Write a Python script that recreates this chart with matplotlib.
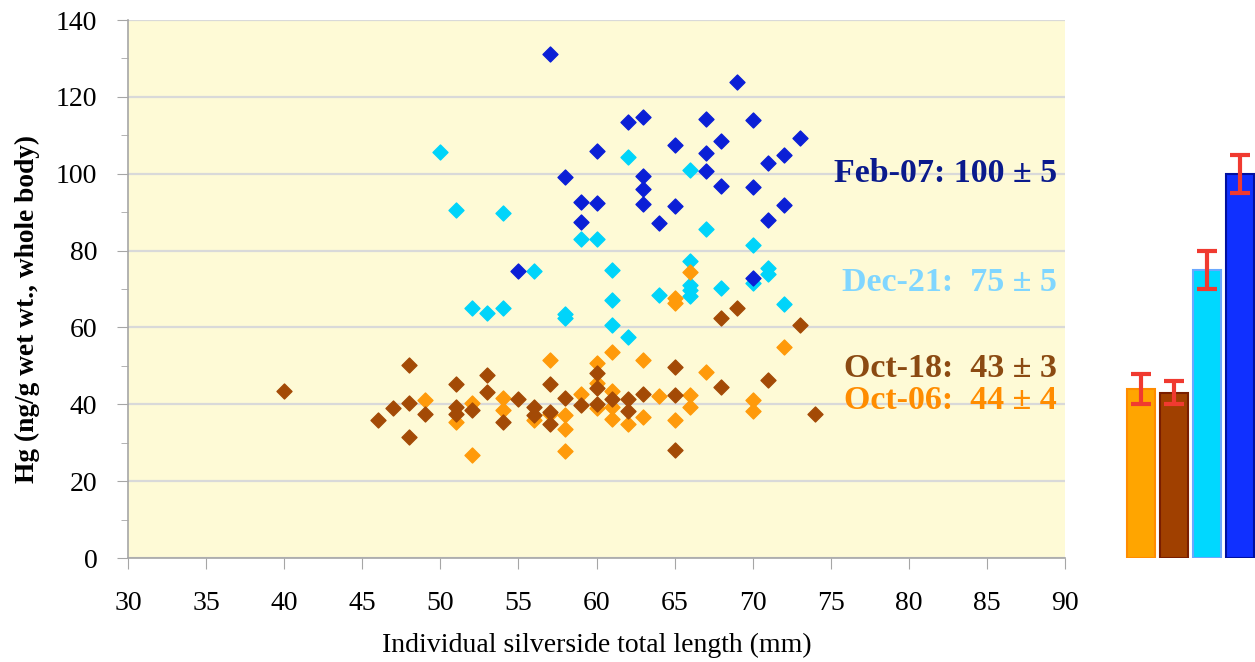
import matplotlib.pyplot as plt
import numpy as np
from matplotlib.ticker import MultipleLocator

plt.rcParams.update({'font.family': 'Liberation Serif'})

# Feb-07 (dark blue)
feb_len = [55, 57, 58, 59, 59, 60, 60, 62, 63, 63, 63, 63, 64, 65, 65, 67, 67, 67,
           68, 68, 69, 70, 70, 70, 71, 71, 72, 72, 73]
feb_hg = [74.8, 131.2, 99.1, 92.6, 87.4, 106, 92.4, 113.5, 114.7, 99.4, 96, 92.2, 87.1,
          107.5, 91.5, 114.2, 105.4, 100.8, 108.5, 96.9, 124, 113.9, 96.5, 72.8, 102.8,
          88, 104.9, 92, 109.4]

# Dec-21 (cyan)
dec_len = [50, 51, 52, 53, 54, 54, 56, 58, 58, 59, 60, 61, 61, 61, 62, 62, 64, 66, 66,
           66, 66, 66, 67, 68, 70, 70, 71, 71, 72]
dec_hg = [105.6, 90.6, 65, 63.7, 89.7, 65.2, 74.8, 63.5, 62.4, 83, 83, 75, 67.1, 60.6,
          104.3, 57.4, 68.4, 101, 77.4, 71, 69.7, 68.2, 85.6, 70.3, 81.4, 71.5, 75.4,
          73.9, 66.1]

# Oct-18 (brown)
o18_len = [40, 46, 47, 48, 48, 48, 49, 51, 51, 51, 52, 53, 53, 54, 55, 56, 56, 57, 57,
           57, 58, 59, 60, 60, 60, 61, 62, 62, 63, 65, 65, 65, 68, 68, 69, 71, 73, 74]
o18_hg = [43.5, 35.9, 39, 50.2, 40.3, 31.6, 37.6, 45.3, 39.4, 37.5, 38.5, 47.6, 43.3,
          35.5, 41.3, 39.4, 37.2, 45.3, 38.1, 35, 41.7, 39.8, 48.1, 44.2, 40.1, 41.5,
          41.5, 38.3, 42.6, 49.8, 42.4, 28.1, 62.4, 44.6, 65.2, 46.3, 60.6, 37.5]

# Oct-06 (orange)
o06_len = [49, 51, 52, 52, 54, 54, 56, 57, 57, 58, 58, 58, 59, 60, 60, 60, 61, 61, 61,
           61, 62, 63, 63, 64, 65, 65, 65, 66, 66, 66, 67, 70, 70, 72]
o06_hg = [41.1, 35.5, 40.4, 26.8, 41.6, 38.5, 35.9, 51.5, 37.5, 37.2, 33.5, 27.9, 42.8,
          50.7, 45.5, 39, 53.6, 43.5, 39.4, 36.1, 34.9, 51.5, 36.6, 42.2, 67.6, 66.4,
          35.9, 74.5, 42.4, 39.4, 48.3, 41.1, 38.3, 55]

# mean +/- error per sampling date (bar panel)
bar_labels = ['Oct-06', 'Oct-18', 'Dec-21', 'Feb-07']
bar_means = [44, 43, 75, 100]
bar_err = [4, 3, 5, 5]

fig = plt.figure(figsize=(12.55, 6.62), dpi=100)
ax = fig.add_axes([0.102, 0.157, 0.7466, 0.8127])
ax.set_facecolor('#FEFAD6')

ax.scatter(dec_len, dec_hg, marker='D', s=58, color='#00D4FA', zorder=3)
ax.scatter(o06_len, o06_hg, marker='D', s=58, color='#FF9A0A', zorder=3)
ax.scatter(o18_len, o18_hg, marker='D', s=58, color='#A34A06', zorder=3)
ax.scatter(feb_len, feb_hg, marker='D', s=58, color='#0B1FD6', zorder=4)

ax.set_xlim(30, 90)
ax.set_ylim(0, 140)
ax.xaxis.set_major_locator(MultipleLocator(5))
ax.yaxis.set_major_locator(MultipleLocator(20))
ax.yaxis.set_minor_locator(MultipleLocator(10))
ax.grid(axis='y', which='major', color='#D9D9D9', lw=1.6, zorder=1)
ax.set_axisbelow(True)

for s in ['top', 'right']:
    ax.spines[s].set_visible(False)
for s in ['left', 'bottom']:
    ax.spines[s].set_color('#A6A6A6')
    ax.spines[s].set_linewidth(1.2)
ax.tick_params(axis='both', which='both', color='#A6A6A6', labelsize=20)
ax.tick_params(axis='y', which='major', length=8, pad=14)
ax.tick_params(axis='y', which='minor', length=5)
ax.tick_params(axis='x', which='major', length=8, pad=16)

ax.set_xlabel('Individual silverside total length (mm)', fontsize=20, labelpad=12)
ax.set_ylabel('Hg (ng/g wet wt., whole body)', fontsize=19.7, fontweight='bold')
ax.yaxis.set_label_coords(-0.094, 0.463)

ax.text(89.5, 100.2, 'Feb-07: 100 \u00b1 5', ha='right', va='center', fontsize=24.5,
        fontweight='bold', color='#0A1A8C')
ax.text(89.5, 71.6, 'Dec-21:  75 \u00b1 5', ha='right', va='center', fontsize=24.5,
        fontweight='bold', color='#80D6FF')
ax.text(89.5, 49.4, 'Oct-18:  43 \u00b1 3', ha='right', va='center', fontsize=24.5,
        fontweight='bold', color='#8B4A12')
ax.text(89.5, 41.1, 'Oct-06:  44 \u00b1 4', ha='right', va='center', fontsize=24.5,
        fontweight='bold', color='#FF8C00')

# bar panel on the right
bx = fig.add_axes([0.8924, 0.157, 0.1076, 0.8127])
pos = np.arange(len(bar_means))
bx.bar(pos, bar_means, 0.85, color=['#FFA500', '#A04000', '#00D8FF', '#1030FF'],
       edgecolor=['#FF8C00', '#7A1E00', '#6AA8FF', '#0010A0'], linewidth=1.5)
bx.errorbar(pos, bar_means, yerr=bar_err, fmt='none', ecolor='#F03A30',
            elinewidth=3, capsize=7, capthick=3)
bx.set_xlim(-0.64, 3.47)
bx.set_ylim(0, 140)
bx.axis('off')

fig.savefig('out.png', dpi=100)
